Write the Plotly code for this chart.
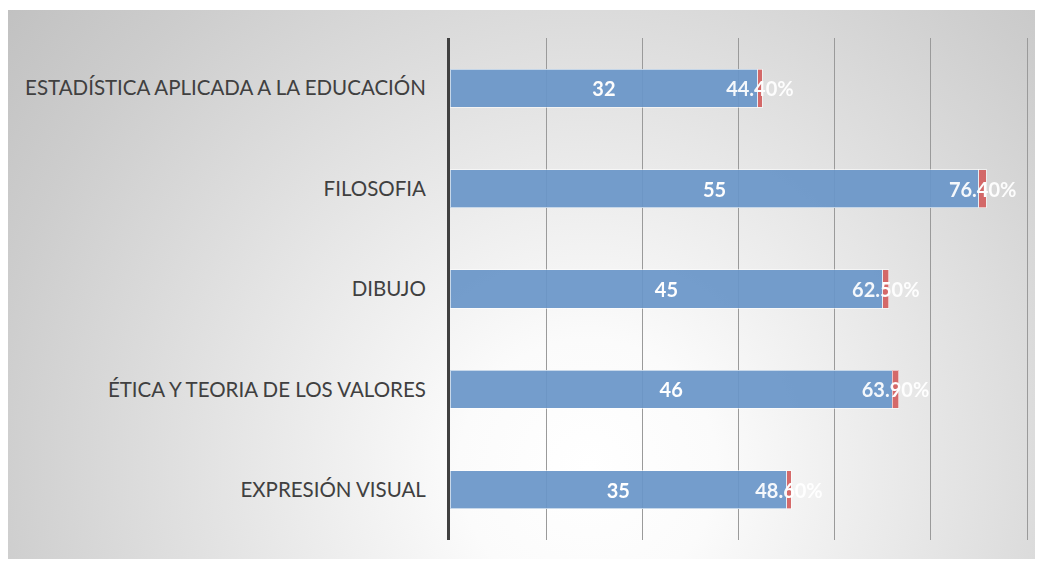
import plotly.graph_objects as go

# la página añade 8 px de margen: la figura ocupa x 8..1040, y 8..559 de la ventana
W, H = 1032, 551

materias = [
    "ESTADÍSTICA APLICADA A LA EDUCACIÓN",
    "FILOSOFIA",
    "DIBUJO",
    "ÉTICA Y TEORIA DE LOS VALORES",
    "EXPRESIÓN VISUAL",
]
cantidad = [32, 55, 45, 46, 35]
porcentaje = [0.444, 0.764, 0.625, 0.639, 0.486]
etiquetas_pct = ["44.40%", "76.40%", "62.50%", "63.90%", "48.60%"]

fig = go.Figure()

# fondo con degradado radial (blanco abajo al centro, gris hacia las esquinas)
cx, cy, R = 580, 460, 860
fig.add_trace(go.Scatter(
    x=[cx - R, cx + R, cx + R, cx - R, cx - R],
    y=[cy - R, cy - R, cy + R, cy + R, cy - R],
    mode="lines", fill="toself", line=dict(width=0),
    fillgradient=dict(type="radial",
                      colorscale=[[0, "#ffffff"], [0.15, "#fbfbfb"], [0.7, "#cdcdcd"],
                                  [0.85, "#c2c2c2"], [1, "#b8b8b8"]]),
    hoverinfo="skip", showlegend=False,
    xaxis="x", yaxis="y",
))

fig.add_trace(go.Bar(
    y=materias, x=cantidad, orientation="h",
    marker=dict(color="#6a96c9", line=dict(color="rgba(255,255,255,0.6)", width=1)),
    opacity=0.93, width=0.38,
    text=[str(v) for v in cantidad], textposition="inside", insidetextanchor="middle",
    textangle=0,
    textfont=dict(color="white", size=20, family="Lato", weight="bold"),
    showlegend=False, xaxis="x2", yaxis="y2",
))
fig.add_trace(go.Bar(
    y=materias, x=porcentaje, orientation="h",
    marker=dict(color="#d25f5f", line=dict(color="rgba(255,255,255,0.6)", width=1)),
    opacity=0.93, width=0.38,
    text=etiquetas_pct, textposition="inside", insidetextanchor="middle",
    textangle=0, constraintext="none", cliponaxis=False,
    textfont=dict(color="white", size=20, family="Lato", weight="bold"),
    showlegend=False, xaxis="x2", yaxis="y2",
))

fig.update_layout(
    width=W, height=H,
    margin=dict(l=0, r=0, t=0, b=0),
    paper_bgcolor="white", plot_bgcolor="rgba(0,0,0,0)",
    barmode="stack",
    xaxis=dict(domain=[0, 1], range=[0, W], visible=False, fixedrange=True),
    yaxis=dict(domain=[0, 1 - 2 / H], range=[H, 2], visible=False, fixedrange=True),
    xaxis2=dict(domain=[442 / W, 1021 / W], range=[0, 60.2], dtick=10, anchor="y2",
                showgrid=True, gridcolor="#9a9a9a", gridwidth=1,
                showticklabels=False, zeroline=False, showline=False),
    yaxis2=dict(domain=[(H - 532) / H, (H - 30) / H], anchor="x2",
                autorange="reversed", showline=True, linecolor="#404040", linewidth=3,
                ticks="", tickfont=dict(family="Lato", size=20.5, color="#404040"),
                ticklabelstandoff=17),
    font=dict(family="Lato"),
)

fig.write_html("out.html")
